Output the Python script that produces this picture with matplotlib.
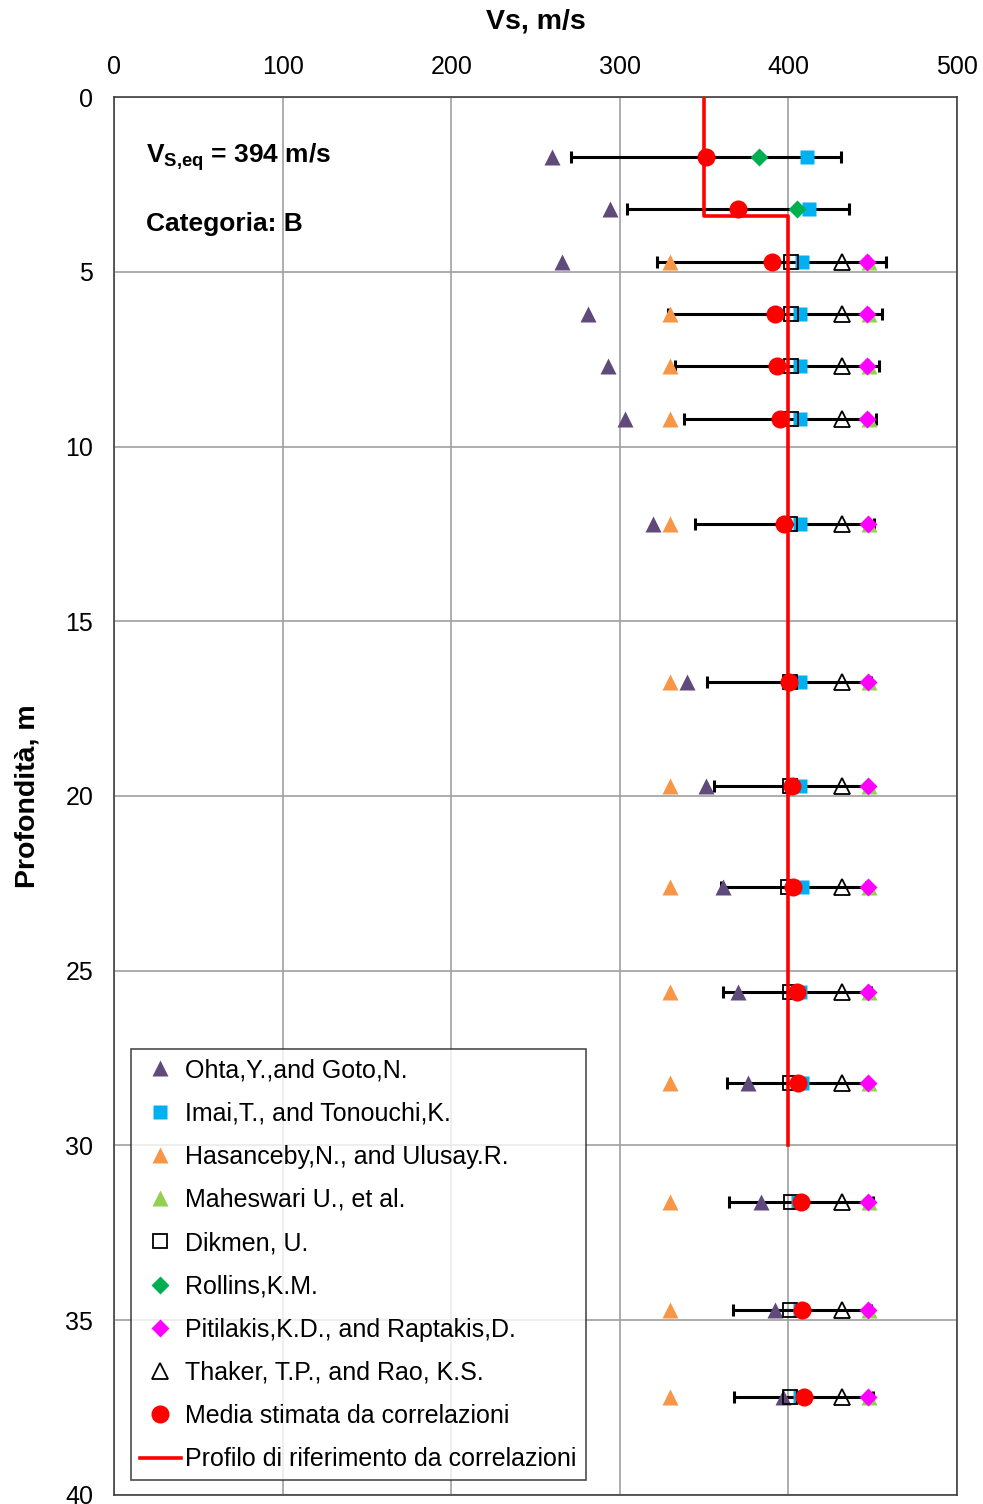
import numpy as np
import matplotlib.pyplot as plt

plt.rcParams['font.family'] = ['Liberation Sans', 'DejaVu Sans']
plt.rcParams['mathtext.fontset'] = 'custom'
plt.rcParams['mathtext.rm'] = 'Liberation Sans'
plt.rcParams['mathtext.bf'] = 'Liberation Sans:bold'

# depths of the correlation points (m)
depth = [1.72, 3.2, 4.72, 6.21, 7.7, 9.21, 12.22, 16.74, 19.71, 22.6, 25.61, 28.21, 31.62, 34.71, 37.2]

# Vs (m/s) from each correlation, None where missing
ohta = [260, 294, 266, 281, 293, 303, 320, 340, 351, 361, 370, 376, 384, 392, 397]
imai = [411, 412, 408, 407, 407, 407, 407, 407, 407, 408, 407, 408, 406, 407, 407]
hasanceby = [None, None, 330, 330, 330, 330, 330, 330, 330, 330, 330, 330, 330, 330, 330]
maheswari = [None, None, 448, 448, 448, 448, 448, 448, 448, 448, 448, 448, 448, 448, 448]
dikmen = [None, None, 401.5, 401.5, 401.5, 401.5, 401, 401, 401, 400, 401, 401, 401.5, 401, 401]
rollins = [382.6, 405] + [None] * 13
pitilakis = [None, None, 446.6, 446.5, 446.5, 446.5, 447, 447, 447, 447, 447, 447, 447, 447, 447]
thaker = [None, None, 432, 432, 432, 432, 432, 432, 432, 432, 432, 432, 432, 432, 432]
media = [351, 370, 390, 392, 393, 395, 397.5, 400.5, 402, 403, 405, 405.8, 407.5, 408, 409]
dev = [80, 66, 68, 63.5, 60.5, 57, 53, 48.5, 46, 43, 44, 42, 42.5, 41, 41]

# reference profile
prof_depth = [0, 3.4, 3.4, 30]
prof_vs = [350, 350, 400, 400]


def clean(vals):
  return [np.nan if v is None else v for v in vals]


fig = plt.figure(figsize=(9.83, 15.04), dpi=100)
ax = fig.add_axes([0.116, 0.006, 0.8575, 0.9295])

ax.errorbar(media, depth, xerr=dev, fmt='none', ecolor='black', elinewidth=2.2,
            capsize=4, capthick=2.2, zorder=2)

ax.plot(ohta, depth, '^', color='#604A7B', ms=12, mec='none', zorder=3, label='Ohta,Y.,and Goto,N.')
ax.plot(imai, depth, 's', color='#00B0F0', ms=10.5, mec='none', zorder=3, label='Imai,T., and Tonouchi,K.')
ax.plot(clean(hasanceby), depth, '^', color='#F79646', ms=12, mec='none', zorder=3, label='Hasanceby,N., and Ulusay.R.')
ax.plot(clean(maheswari), depth, '^', color='#92D050', ms=12, mec='none', zorder=3, label='Maheswari U., et al.')
ax.plot(clean(dikmen), depth, 's', mfc='none', mec='black', mew=1.3, ms=9.5, zorder=4, label='Dikmen, U.')
ax.plot(clean(rollins), depth, 'D', color='#00B050', ms=9.5, mec='none', zorder=4, label='Rollins,K.M.')
ax.plot(clean(pitilakis), depth, 'D', color='#FF00FF', ms=9.5, mec='none', zorder=4, label='Pitilakis,K.D., and Raptakis,D.')
ax.plot(clean(thaker), depth, '^', mfc='none', mec='black', mew=1.3, ms=11.5, zorder=4, label='Thaker, T.P., and Rao, K.S.')
ax.plot(media, depth, 'o', color='#FF0000', ms=13, mec='none', zorder=5, label='Media stimata da correlazioni')
ax.plot(prof_vs, prof_depth, '-', color='#FF0000', lw=2.6, zorder=6, label='Profilo di riferimento da correlazioni')

ax.set_xlim(0, 500)
ax.set_ylim(40, 0)
ax.set_xticks(np.arange(0, 501, 100))
ax.set_yticks(np.arange(0, 41, 5))
ax.xaxis.tick_top()
ax.xaxis.set_label_position('top')
ax.tick_params(axis='x', length=0, pad=13, labelsize=18)
ax.tick_params(axis='y', length=0, pad=15, labelsize=18)
ax.grid(True, color='#A0A0A0', lw=1.2)
ax.set_axisbelow(True)
for s in ax.spines.values():
  s.set_color('#404040')
  s.set_linewidth(1.2)

ax.set_xlabel('Vs, m/s', fontsize=20.5, fontweight='bold', labelpad=19)
ax.set_ylabel('Profondità, m', fontsize=20.5, fontweight='bold', labelpad=18)

ax.text(0.038, 0.957, r'V$_\mathbf{S{,}eq}$ = 394 m/s', transform=ax.transAxes, fontsize=19,
        fontweight='bold', va='center', ha='left')
ax.text(0.038, 0.909, 'Categoria: B', transform=ax.transAxes, fontsize=19,
        fontweight='bold', va='center', ha='left')

leg = ax.legend(loc='lower left', bbox_to_anchor=(0.02, 0.0107), fontsize=18,
                frameon=True, fancybox=False, edgecolor='#202020', handlelength=1.65,
                handletextpad=0.18, labelspacing=0.77, borderpad=0.35, borderaxespad=0)
leg.get_frame().set_linewidth(1.2)

fig.savefig('out.png', dpi=100)
